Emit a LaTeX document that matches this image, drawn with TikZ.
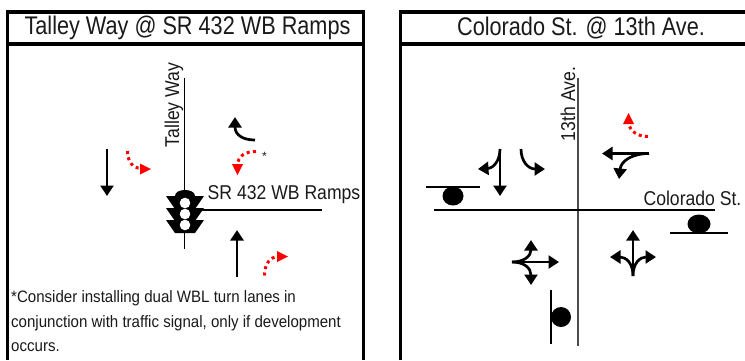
\documentclass[tikz,border=0pt]{standalone}
\usepackage{fontspec}
\usepackage{graphicx}
\setmainfont{Liberation Sans}
\usetikzlibrary{arrows.meta}
\definecolor{txt}{HTML}{1A1A1A}
\tikzset{
  frameline/.style={line width=3.2pt,black},
  road/.style={line width=1.8pt,black},
  mv/.style={line width=2.7pt,black,-{Triangle[length=10.5pt,width=13pt]}},
  redmv/.style={line width=3pt,red,dash pattern=on 3pt off 3.4pt},
  redtip/.style={fill=red,draw=none},
  lab/.style={inner sep=0pt,text=txt},
  stopbar/.style={line width=1.8pt,black},
}
\newcommand{\ttl}[1]{\fontsize{25.5}{25.5}\selectfont\scalebox{0.85}[1]{#1}}
\newcommand{\lbl}[1]{\fontsize{20}{20}\selectfont\scalebox{0.88}[1]{#1}}
\newcommand{\nte}[1]{\fontsize{16.5}{16.5}\selectfont\scalebox{0.913}[1]{#1}}
\begin{document}
\begin{tikzpicture}[x=1pt,y=-1pt]
\useasboundingbox (0,0) rectangle (745,360);
\fill[white] (0,0) rectangle (745,360);
% left frame
\draw[frameline] (7.5,360) -- (7.5,12) -- (363.5,12) -- (363.5,360);
\draw[frameline] (7.5,44) -- (363.5,44);
% right frame
\draw[frameline] (400.5,360) -- (400.5,12) -- (745,12);
\draw[frameline] (400.5,44) -- (745,44);
\node[lab] (t1) at (187.5,28) {\ttl{Talley Way @ SR 432 WB Ramps}};
\node[lab] (t2) at (581,28) {\ttl{Colorado St. @ 13th Ave.}};
% left roads
\coordinate (ln) at (184.5,78); \coordinate (ls) at (184.5,249);
\coordinate (lw) at (185,210); \coordinate (le) at (322,210);
\draw[road] (ln) -- (ls);
\draw[road] (lw) -- (le);
\node[lab,rotate=90] (l1) at (174,105) {\lbl{Talley Way}};
\node[lab] (l2) at (284,195) {\lbl{SR 432 WB Ramps}};
% signal
\foreach \yy in {196,208,220}{
  \fill[black] (166,\yy) -- (204,\yy) -- (195,\yy+13) -- (175,\yy+13) -- cycle;
}
\fill[black] (175,196) .. controls (175,192) and (180,190) .. (185,190) .. controls (190,190) and (195,192) .. (195,196) -- (195,232) -- (175,232) -- cycle;
\foreach \yy in {203,214,225}{ \fill[white] (185,\yy) circle[radius=5.3]; }
% left movements
\coordinate (a1s) at (107,149); \coordinate (a1e) at (107,196);
\draw[mv] (a1s) -- (a1e);
\coordinate (a2s) at (237,277); \coordinate (a2e) at (237,230);
\draw[mv] (a2s) -- (a2e);
\coordinate (a3s) at (255,140); \coordinate (a3e) at (235,117);
\draw[mv] (a3s) .. controls (243,140) and (235,135) .. (a3e);
\draw[redmv] (127.5,151) .. controls (127.5,162) and (133,168) .. (141,168.5);
\fill[redtip] (151,169) -- (140,163.5) -- (140,174.5) -- cycle;
\draw[redmv] (256,151.5) .. controls (245,151.5) and (238,156) .. (237.5,165);
\fill[redtip] (237.5,175) -- (232,164) -- (243,164) -- cycle;
\draw[redmv] (264.5,275.5) .. controls (264.5,264) and (270,257) .. (278,256.5);
\fill[redtip] (288,256.5) -- (277,251) -- (277,262) -- cycle;
\node[lab] (star) at (264.5,156) {\fontsize{12}{12}\selectfont *};
% note
\node[lab,anchor=base west] (n1) at (11,302) {\nte{*Consider installing dual WBL turn lanes in}};
\node[lab,anchor=base west] (n2) at (11,327) {\nte{conjunction with traffic signal, only if development}};
\node[lab,anchor=base west] (n3) at (11,351) {\nte{occurs.}};
% right roads
\coordinate (rn) at (578,78); \coordinate (rs) at (578,346);
\coordinate (rw) at (434,210); \coordinate (re) at (715,210);
\draw[road,black!70] (rn) -- (rs);
\draw[road] (rw) -- (re);
\node[lab,rotate=90] (r1) at (568,104) {\lbl{13th Ave.}};
\node[lab] (r2) at (692.5,198) {\lbl{Colorado St.}};
% right stop bars
\coordinate (b1a) at (426,187); \coordinate (b1b) at (480,187);
\draw[stopbar] (b1a) -- (b1b);
\fill[black] (453,196) ellipse[x radius=10.5,y radius=9.5];
\coordinate (b2a) at (670,233); \coordinate (b2b) at (728,233);
\fill[black] (699,224) ellipse[x radius=11.5,y radius=9.5];
\draw[stopbar] (b2a) -- (b2b);
\coordinate (b3a) at (551,290); \coordinate (b3b) at (551,344);
\draw[stopbar] (b3a) -- (b3b);
\fill[black] (561,317) circle[radius=10];
% right movements
\draw[mv] (500,149) -- (500,196);
\draw[mv] (500,149) .. controls (500,160) and (494,168) .. (478,169);
\draw[mv] (521,149) .. controls (521,161) and (528,169) .. (545,169);
\draw[mv] (649,153.5) -- (602,153.5);
\draw[mv] (649,153.5) .. controls (632,153.5) and (621,161) .. (619,179);
\draw[redmv] (648,136.5) .. controls (637,136.5) and (630,131) .. (628.5,123);
\fill[redtip] (628.5,113) -- (623,124) -- (634,124) -- cycle;
\draw[mv] (512,262) -- (559,262);
\draw[mv] (512,262) .. controls (524,262) and (531,256) .. (531,240);
\draw[mv] (512,262) .. controls (524,262) and (531,268) .. (531,285);
\draw[mv] (633,276) -- (633,230);
\draw[mv] (633,276) .. controls (633,263) and (626,257) .. (610,257);
\draw[mv] (633,276) .. controls (633,263) and (640,257) .. (656,257);
\end{tikzpicture}
\end{document}
